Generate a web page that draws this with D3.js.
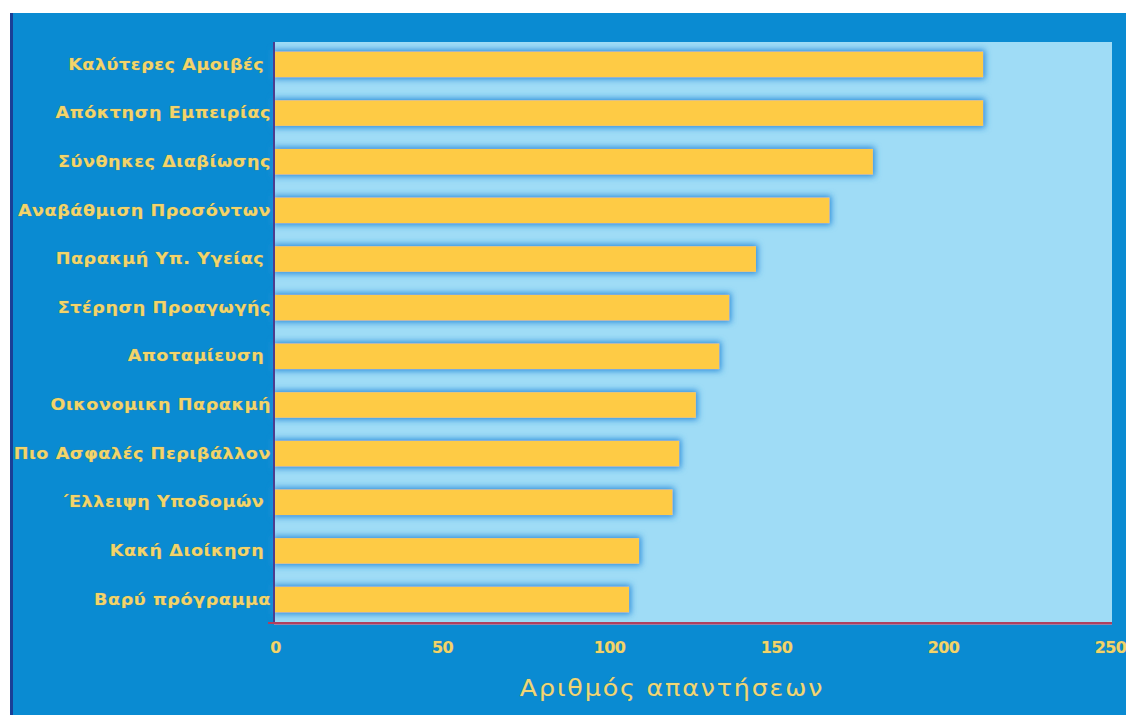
<!DOCTYPE html>
<html>
<head>
<meta charset="utf-8">
<script src="https://cdn.jsdelivr.net/npm/d3@7"></script>
<style>
  html, body { margin: 0; padding: 0; background: #ffffff; }
  svg { display: block; }
</style>
</head>
<body>
<svg id="chart" width="1126" height="715"></svg>
<script>
// Reasons given, top to bottom, and the number of answers for each
const categories = [
  "Καλύτερες Αμοιβές ",
  "Απόκτηση Εμπειρίας",
  "Σύνθηκες Διαβίωσης",
  "Αναβάθμιση Προσόντων",
  "Παρακμή Υπ. Υγείας ",
  "Στέρηση Προαγωγής",
  "Αποταμίευση ",
  "Οικονομικη Παρακμή",
  "Πιο Ασφαλές Περιβάλλον",
  "΄Ελλειψη Υποδομών ",
  "Κακή Διοίκηση ",
  "Βαρύ πρόγραμμα"
];
const answers = [212, 212, 179, 166, 144, 136, 133, 126, 121, 119, 109, 106];
const xTicks = [0, 50, 100, 150, 200, 250];
const xTitle = "Αριθμός απαντήσεων";

const svg = d3.select("#chart");
const W = 1126, H = 715;

// Frame: blue panel with a dark edge on the left
svg.append("rect").attr("x", 0).attr("y", 0).attr("width", W).attr("height", H).attr("fill", "#ffffff");
svg.append("rect").attr("x", 10).attr("y", 13).attr("width", W - 10).attr("height", H - 13).attr("fill", "#0a8bd2");
svg.append("rect").attr("x", 10).attr("y", 13).attr("width", 3).attr("height", H - 13).attr("fill", "#1a3f96");

const plot = { left: 274, right: 1112, top: 42, bottom: 623 };

const x = d3.scaleLinear().domain([0, 250]).range([275, 1110]);
const y = d3.scaleBand().domain(categories).range([40, 624]).paddingInner(0.475).paddingOuter(0.24);

// Soft blue glow around the bars
const defs = svg.append("defs");
const f = defs.append("filter").attr("id", "glow")
  .attr("x", "-5%").attr("y", "-60%").attr("width", "110%").attr("height", "220%");
f.append("feFlood").attr("flood-color", "#2f8fdb").attr("flood-opacity", 1).attr("result", "c");
f.append("feComposite").attr("in", "c").attr("in2", "SourceAlpha").attr("operator", "in").attr("result", "s");
f.append("feMorphology").attr("in", "s").attr("operator", "dilate").attr("radius", 1.5).attr("result", "d");
f.append("feGaussianBlur").attr("in", "d").attr("stdDeviation", 3).attr("result", "b");
const m = f.append("feMerge");
m.append("feMergeNode").attr("in", "b");
m.append("feMergeNode").attr("in", "SourceGraphic");

// Plot background
svg.append("rect")
  .attr("x", plot.left).attr("y", plot.top)
  .attr("width", plot.right - plot.left).attr("height", plot.bottom - plot.top)
  .attr("fill", "#9fdcf6");

// Bars
svg.append("g").attr("filter", "url(#glow)")
  .selectAll("rect").data(categories).join("rect")
  .attr("x", x(0))
  .attr("y", d => y(d))
  .attr("width", (d, i) => x(answers[i]) - x(0))
  .attr("height", y.bandwidth())
  .attr("fill", "#fecb45");

// Axes
const xAxis = svg.append("g")
  .attr("transform", `translate(0,${plot.bottom})`)
  .call(d3.axisBottom(x).tickValues(xTicks).tickSize(0).tickPadding(19));
xAxis.select(".domain").remove();
xAxis.selectAll("text")
  .attr("fill", "#f3d46a")
  .attr("stroke", "#8a8a3a").attr("stroke-width", 0.6).attr("stroke-opacity", 0.6)
  .attr("paint-order", "stroke")
  .attr("font-family", "DejaVu Sans")
  .attr("font-weight", "bold")
  .attr("font-size", 16)
  .attr("letter-spacing", -0.6);

const yAxis = svg.append("g")
  .attr("transform", `translate(${plot.left - 3},0)`)
  .call(d3.axisLeft(y).tickSize(0).tickPadding(0));
yAxis.select(".domain").remove();
yAxis.selectAll("text")
  .attr("fill", "#f3d46a")
  .attr("stroke", "#8a8a3a").attr("stroke-width", 0.6).attr("stroke-opacity", 0.6)
  .attr("paint-order", "stroke")
  .attr("font-family", "DejaVu Sans")
  .attr("font-weight", "bold")
  .attr("font-size", 16)
  .attr("letter-spacing", 0.5)
  .attr("transform", "scale(1.1,1)")
  .style("white-space", "pre");

// Axis lines
svg.append("line")
  .attr("x1", plot.left).attr("x2", plot.left)
  .attr("y1", plot.top).attr("y2", plot.bottom)
  .attr("stroke", "#4d3d8e").attr("stroke-width", 2);
svg.append("line")
  .attr("x1", plot.left - 6).attr("x2", plot.right)
  .attr("y1", plot.bottom).attr("y2", plot.bottom)
  .attr("stroke", "#b0405e").attr("stroke-width", 2);
svg.append("line")
  .attr("x1", plot.left).attr("x2", plot.right)
  .attr("y1", plot.bottom + 1.5).attr("y2", plot.bottom + 1.5)
  .attr("stroke", "#d77a96").attr("stroke-width", 1).attr("opacity", 0.7);

// Axis title
svg.append("text")
  .attr("transform", "translate(672,696) scale(1.1,1)")
  .attr("text-anchor", "middle")
  .attr("fill", "#f1d675")
  .attr("stroke", "#8a8a3a").attr("stroke-width", 0.5).attr("stroke-opacity", 0.5)
  .attr("paint-order", "stroke")
  .attr("font-family", "DejaVu Sans")
  .attr("font-size", 23)
  .attr("letter-spacing", 1.7)
  .text(xTitle);
</script>
</body>
</html>
